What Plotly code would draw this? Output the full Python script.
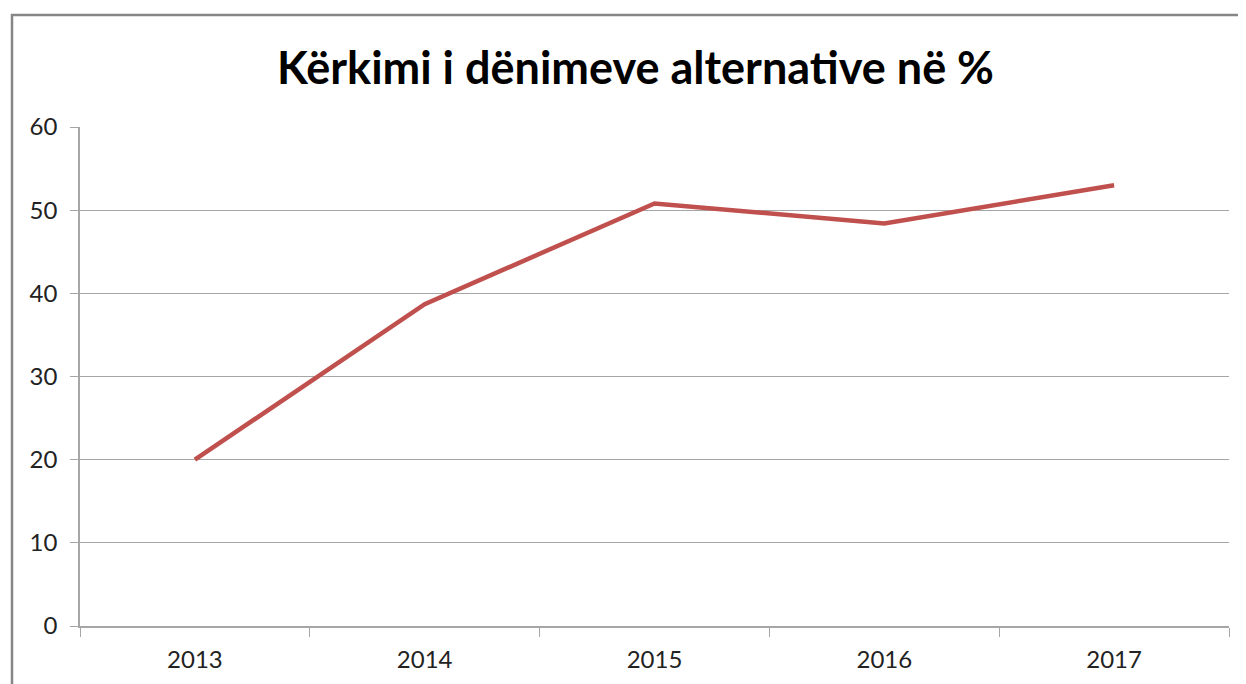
import plotly.graph_objects as go

years = ["2013", "2014", "2015", "2016", "2017"]
values = [20.0, 38.7, 50.8, 48.4, 53.0]
y_ticks = [0, 10, 20, 30, 40, 50, 60]
title_text = "Kërkimi i dënimeve alternative në %"

fig = go.Figure()
fig.add_trace(go.Scatter(
    x=years, y=values, mode="lines",
    line=dict(color="#C0504D", width=4.5),
    hoverinfo="x+y", showlegend=False,
))

grid = "#A6A6A6"
W, H = 1238, 676
fig.update_layout(
    width=W, height=H,
    margin=dict(l=72, r=17, t=119, b=58),
    paper_bgcolor="white", plot_bgcolor="white",
    font=dict(family="Lato", size=24, color="#222222"),
    title=dict(
        text="<b>" + title_text + "</b>",
        font=dict(family="Lato", size=45, color="black"),
        x=0.4835, xref="paper", xanchor="center",
        y=1 - 60 / H, yref="container", yanchor="middle",
    ),
    xaxis=dict(
        type="category", range=[-0.5, 4.5],
        tickson="boundaries", ticks="outside", ticklen=9, tickcolor=grid,
        showline=True, linecolor=grid, linewidth=1.5,
        showgrid=False, zeroline=False, ticklabelstandoff=11,
    ),
    yaxis=dict(
        range=[0, 60], tickvals=y_ticks, ticks="outside", ticklen=8,
        tickcolor=grid, showline=True, linecolor=grid, linewidth=1.5,
        showgrid=True, gridcolor=grid, gridwidth=1.2, zeroline=False,
        ticklabelstandoff=8,
    ),
    shapes=[dict(
        type="rect", xref="paper", yref="paper",
        x0=(4 - 72) / 1149, x1=1.2, y0=-0.5, y1=(618 - 7) / 499,
        line=dict(color="#868686", width=2.5), fillcolor="rgba(0,0,0,0)",
        layer="below",
    )],
)

fig.write_html("out.html")
